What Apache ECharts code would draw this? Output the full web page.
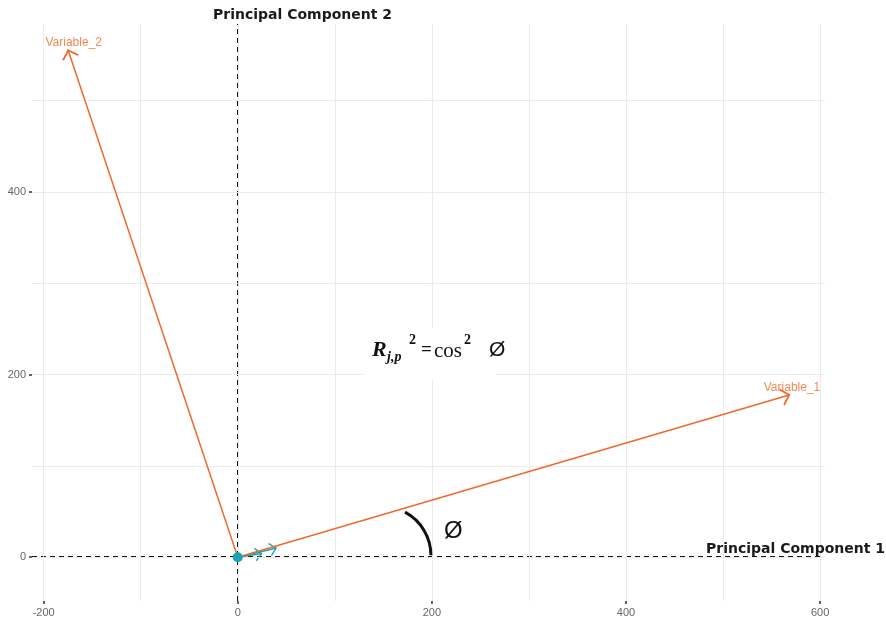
<!DOCTYPE html>
<html>
<head>
<meta charset="utf-8">
<script src="https://cdn.jsdelivr.net/npm/echarts@6/dist/echarts.min.js"></script>
<style>html,body{margin:0;padding:0;background:#fff;}#chart{width:886px;height:622px;}</style>
</head>
<body>
<div id="chart"></div>
<script>
// ---- data ----
const varNames = ['Variable_1', 'Variable_2'];
const varX = [569, -175];
const varY = [178, 556];
const labelX = [571, -169];
const labelY = [186, 563];
const smallX = [25, 40];
const smallY = [4, 10];
const originPoint = [[0, 0]];
const xTickVals = [-200, 0, 200, 400, 600];
const yTickVals = [0, 200, 400];
const xGridVals = [-200, -100, 0, 100, 200, 300, 400, 500, 600];
const yGridVals = [0, 100, 200, 300, 400, 500];
const xRange = [-212, 605];
const yRange = [-48, 584];
const hAxisEnd = 600;
const arcCenter = [148.5, 2];

const orange = '#EF6A2A';
const teal = '#17A5B6';
const chevron = 'path://M0,-10 L0.01,-10 Z M0,0 L5,10 L3.9,10.8 L0,2.8 L-3.9,10.8 L-5,10 Z';

const chart = echarts.init(document.getElementById('chart'), null, {renderer: 'canvas'});

const arrowData = varX.map((x, i) => ({coords: [[0, 0], [x, varY[i]]]}));
const smallData = smallX.map((x, i) => ({coords: [[0, 0], [x, smallY[i]]]}));
const labelData = varNames.map((n, i) => ({name: n, value: [labelX[i], labelY[i]]}));
const refLines = [
  {coords: [[0, yRange[0]], [0, yRange[1]]]},
  {coords: [[xRange[0], 0], [hAxisEnd, 0]]}
];

const axisCommon = {
  type: 'value',
  axisLine: {show: false, onZero: false},
  splitLine: {show: false},
  axisTick: {show: true, length: 3, lineStyle: {color: '#333', width: 1.5}},
  axisLabel: {color: '#666', fontSize: 11, fontFamily: 'Liberation Sans', margin: 6}
};

const option = {
  animation: false,
  backgroundColor: '#ffffff',
  grid: {left: 32, right: 61, top: 24, bottom: 21, containLabel: false},
  xAxis: echarts.util.merge({
    min: xRange[0], max: xRange[1],
    axisTick: {customValues: xTickVals},
    axisLabel: {customValues: xTickVals}
  }, axisCommon),
  yAxis: echarts.util.merge({
    min: yRange[0], max: yRange[1],
    axisTick: {customValues: yTickVals},
    axisLabel: {customValues: yTickVals}
  }, axisCommon),
  series: [
    {
      type: 'line', data: [], z: 1, silent: true,
      markLine: {
        silent: true, symbol: 'none', animation: false,
        label: {show: false},
        lineStyle: {color: '#ebebeb', width: 1, type: 'solid'},
        data: xGridVals.map(v => ({xAxis: v})).concat(yGridVals.map(v => ({yAxis: v})))
      }
    },
    {
      type: 'lines', coordinateSystem: 'cartesian2d', z: 3, silent: true,
      symbol: ['none', 'none'],
      lineStyle: {color: '#111', width: 2, type: [5, 4], opacity: 1},
      data: refLines
    },
    {
      type: 'lines', coordinateSystem: 'cartesian2d', z: 4, silent: true,
      symbol: ['none', chevron], symbolSize: [7, 14],
      lineStyle: {color: teal, width: 1.5, opacity: 1},
      data: smallData
    },
    {
      type: 'scatter', z: 7, silent: true, symbol: 'circle', symbolSize: 10,
      itemStyle: {color: teal, opacity: 1},
      data: originPoint
    },
    {
      type: 'lines', coordinateSystem: 'cartesian2d', z: 5, silent: true,
      symbol: ['none', chevron], symbolSize: [9, 18],
      lineStyle: {color: orange, width: 1.5, opacity: 1},
      data: arrowData
    },
    {
      type: 'scatter', z: 6, silent: true, symbolSize: 0,
      label: {show: true, position: 'inside', formatter: p => p.name, color: orange, fontSize: 12, fontFamily: 'Liberation Sans'},
      data: labelData
    }
  ]
};
chart.setOption(option);

const c = chart.convertToPixel('grid', arcCenter);
const serif = '"Liberation Serif"';
chart.setOption({
  graphic: [
    {type: 'rect', z: 100, shape: {x: 363, y: 328, width: 133, height: 52}, style: {fill: '#fff'}},
    {type: 'text', z: 101, style: {text: 'R', x: 372, y: 350, font: 'italic bold 22px ' + serif, fill: '#111', verticalAlign: 'middle'}},
    {type: 'text', z: 101, style: {text: 'j,p', x: 387, y: 357, font: 'italic bold 14px ' + serif, fill: '#111', verticalAlign: 'middle'}},
    {type: 'text', z: 101, style: {text: '2', x: 409, y: 340, font: 'bold 14px ' + serif, fill: '#111', verticalAlign: 'middle'}},
    {type: 'text', z: 101, style: {text: '=', x: 421, y: 350, font: 'bold 19px ' + serif, fill: '#111', verticalAlign: 'middle'}},
    {type: 'text', z: 101, style: {text: 'cos', x: 434, y: 351, font: '21px ' + serif, fill: '#111', verticalAlign: 'middle'}},
    {type: 'text', z: 101, style: {text: '2', x: 464, y: 340, font: 'bold 14px ' + serif, fill: '#111', verticalAlign: 'middle'}},
    {type: 'text', z: 101, style: {text: 'Ø', x: 489, y: 350, font: '21px "Liberation Sans"', fill: '#111', verticalAlign: 'middle'}},
    {type: 'arc', z: 101, shape: {cx: c[0], cy: c[1], r: 49, startAngle: -1.08, endAngle: 0, clockwise: true}, style: {stroke: '#111', lineWidth: 3, fill: null}},
    {type: 'text', z: 101, style: {text: 'Ø', x: 444, y: 531, font: '24px "Liberation Sans"', fill: '#111', verticalAlign: 'middle'}},
    {type: 'text', z: 101, style: {text: 'Principal Component 2', x: 213, y: 15, font: 'bold 14px "DejaVu Sans"', fill: '#1a1a1a', verticalAlign: 'middle'}},
    {type: 'text', z: 101, style: {text: 'Principal Component 1', x: 706, y: 549, font: 'bold 14px "DejaVu Sans"', fill: '#1a1a1a', verticalAlign: 'middle'}}
  ]
});
</script>
</body>
</html>
